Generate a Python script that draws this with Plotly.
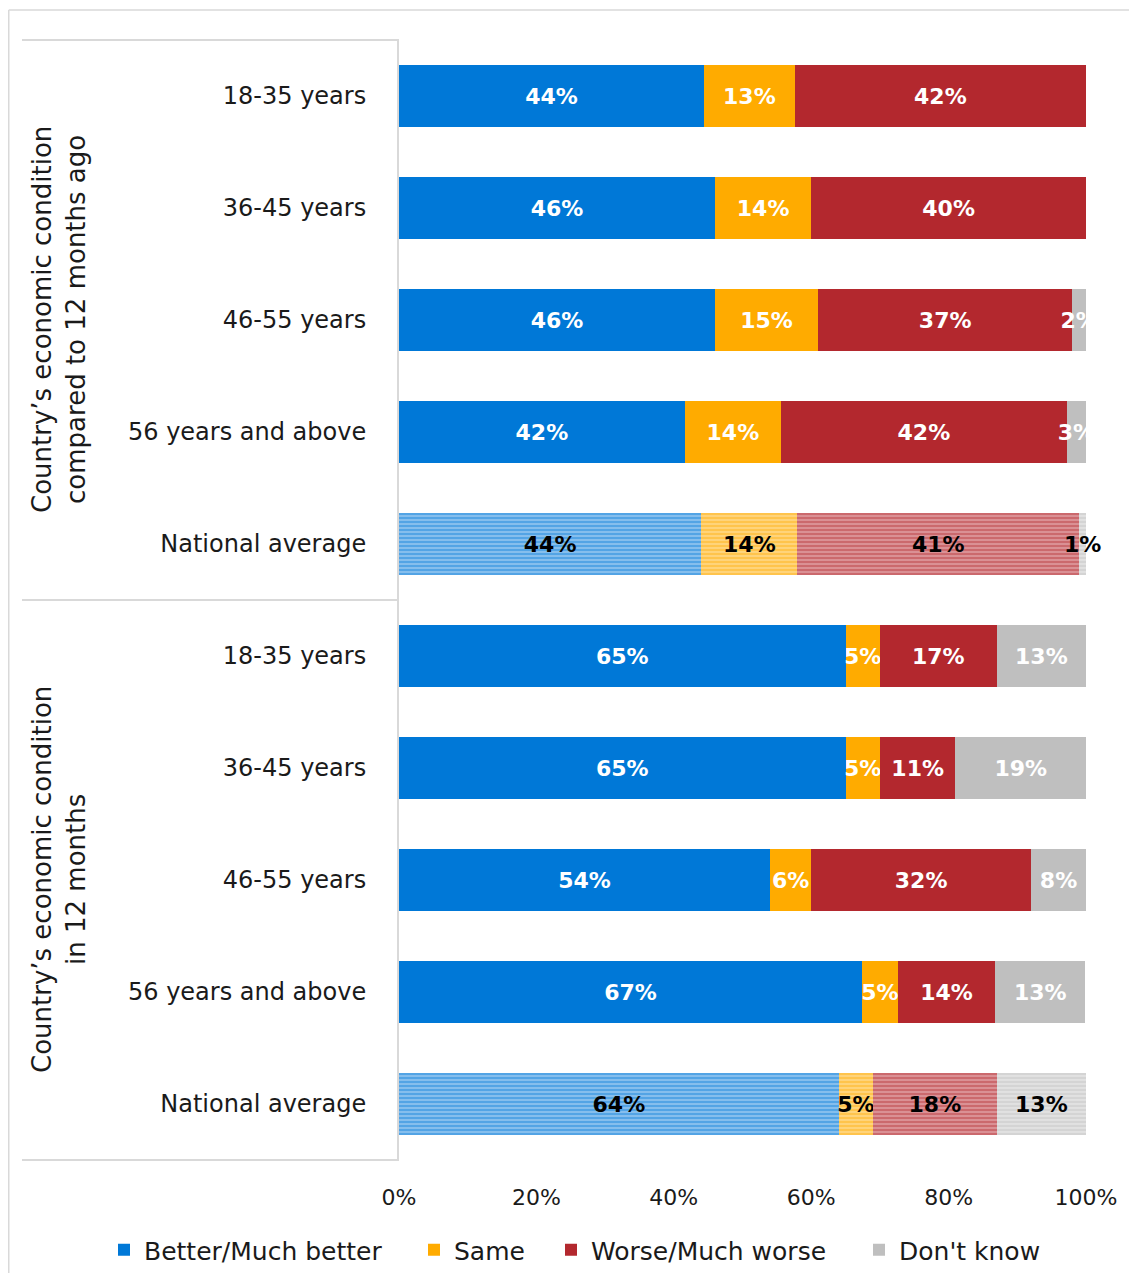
import plotly.graph_objects as go

# ---------------- data ----------------
categories = ["18-35 years", "36-45 years", "46-55 years", "56 years and above", "National average",
              "18-35 years", "36-45 years", "46-55 years", "56 years and above", "National average"]
groups = ["Country’s economic condition<br>compared to 12 months ago",
          "Country’s economic condition<br>in 12 months"]
series_names = ["Better/Much better", "Same", "Worse/Much worse", "Don't know"]
better = [44.4, 46, 46, 41.6, 44, 65, 65, 54, 67.4, 64]
same = [13.2, 14, 15, 14, 14, 5, 5, 6, 5.2, 5]
worse = [42.4, 40, 37, 41.6, 41, 17, 11, 32, 14.2, 18]
dont_know = [0, 0, 2, 2.8, 1, 13, 19, 8, 13.1, 13]
x_ticks = [0, 20, 40, 60, 80, 100]
x_ticktext = ["0%", "20%", "40%", "60%", "80%", "100%"]

colors = ["#0078D7", "#FFAB00", "#B3282E", "#BFBFBF"]
tints = ["#A6D0F2", "#FFDD99", "#E3AAAD", "#E8E8E8"]
FONT = "DejaVu Sans"
TXT = "#1a1a1a"

# page has an 8px body margin: figure coords = page coords - 8
FW, FH = 1129, 1265
L, R, T, B = 391, 1078, 32, 1152
W, H = R - L, B - T
def px(xp):
    return (xp - L) / W
def py(yp):
    return (B - yp) / H

fig = go.Figure()
positions = list(range(len(categories)))
is_nat = [c == "National average" for c in categories]
legend_ids = ["legend", "legend2", "legend3", "legend4"]
legend_x = [96, 406, 543, 851]  # figure px of each legend box

for name, vals, col, tint, lid in zip(series_names, [better, same, worse, dont_know], colors, tints, legend_ids):
    for nat in (False, True):
        ys = [p for p, n in zip(positions, is_nat) if n == nat]
        xs = [v for v, n in zip(vals, is_nat) if n == nat]
        txt = [f"{round(v)}%" if v > 0 else "" for v in xs]
        marker = dict(color=col, line=dict(width=0))
        if nat:
            marker["pattern"] = dict(shape="-", fgcolor=col, bgcolor=tint, size=4, solidity=0.7)
        fig.add_trace(go.Bar(
            x=xs, y=ys, orientation="h", name=name, legendgroup=name, legend=lid,
            showlegend=not nat, marker=marker, width=0.55,
            text=txt, textposition="inside", insidetextanchor="middle",
            textangle=0, constraintext="none", cliponaxis=not nat,
            textfont=dict(family=FONT, size=22, color="black" if nat else "white", weight="bold"),
            hoverinfo="skip",
        ))

shapes = []
line_col = "#D9D9D9"
for yp in (T, (T + B) / 2, B):
    shapes.append(dict(type="line", xref="paper", yref="paper", x0=px(14), x1=px(L), y0=py(yp), y1=py(yp),
                       line=dict(color=line_col, width=2)))
# outer border
shapes.append(dict(type="line", xref="paper", yref="paper", x0=px(0.75), x1=px(FW + 5), y0=py(2), y1=py(2),
                   line=dict(color=line_col, width=1.5)))
shapes.append(dict(type="line", xref="paper", yref="paper", x0=px(0.75), x1=px(0.75), y0=py(2), y1=py(FH + 5),
                   line=dict(color=line_col, width=1.5)))

annotations = []
for g, yc in zip(groups, [0.75, 0.25]):
    annotations.append(dict(text=g, xref="paper", yref="paper", x=px(51), y=yc, textangle=-90,
                            showarrow=False, align="center", xanchor="center", yanchor="middle",
                            font=dict(family=FONT, size=26, color=TXT)))

legend_common = dict(orientation="h", xanchor="left", yref="container", y=(FH - 1242) / FH, yanchor="middle",
                     font=dict(family=FONT, size=25, color=TXT), itemclick=False, itemdoubleclick=False,
                     bgcolor="rgba(0,0,0,0)")
legends = {lid: dict(legend_common, x=px(lx)) for lid, lx in zip(legend_ids, legend_x)}

fig.update_layout(
    width=FW, height=FH,
    margin=dict(l=L, r=FW - R, t=T, b=FH - B),
    barmode="stack", bargap=0.45,
    paper_bgcolor="white", plot_bgcolor="white",
    font=dict(family=FONT, color=TXT),
    shapes=shapes, annotations=annotations,
    xaxis=dict(range=[0, 100], tickmode="array", tickvals=x_ticks, ticktext=x_ticktext,
               showgrid=False, zeroline=False,
               showline=False, ticks="outside", ticklen=18, tickcolor="rgba(0,0,0,0)",
               tickfont=dict(family=FONT, size=22, color=TXT)),
    yaxis=dict(range=[len(categories) - 0.5, -0.5], tickmode="array", tickvals=positions, ticktext=categories,
               showgrid=False, zeroline=False, showline=True, linecolor=line_col, linewidth=2,
               ticks="outside", ticklen=26, tickcolor="rgba(0,0,0,0)",
               tickfont=dict(family=FONT, size=24, color=TXT)),
    **legends,
)

fig.write_html("out.html")
